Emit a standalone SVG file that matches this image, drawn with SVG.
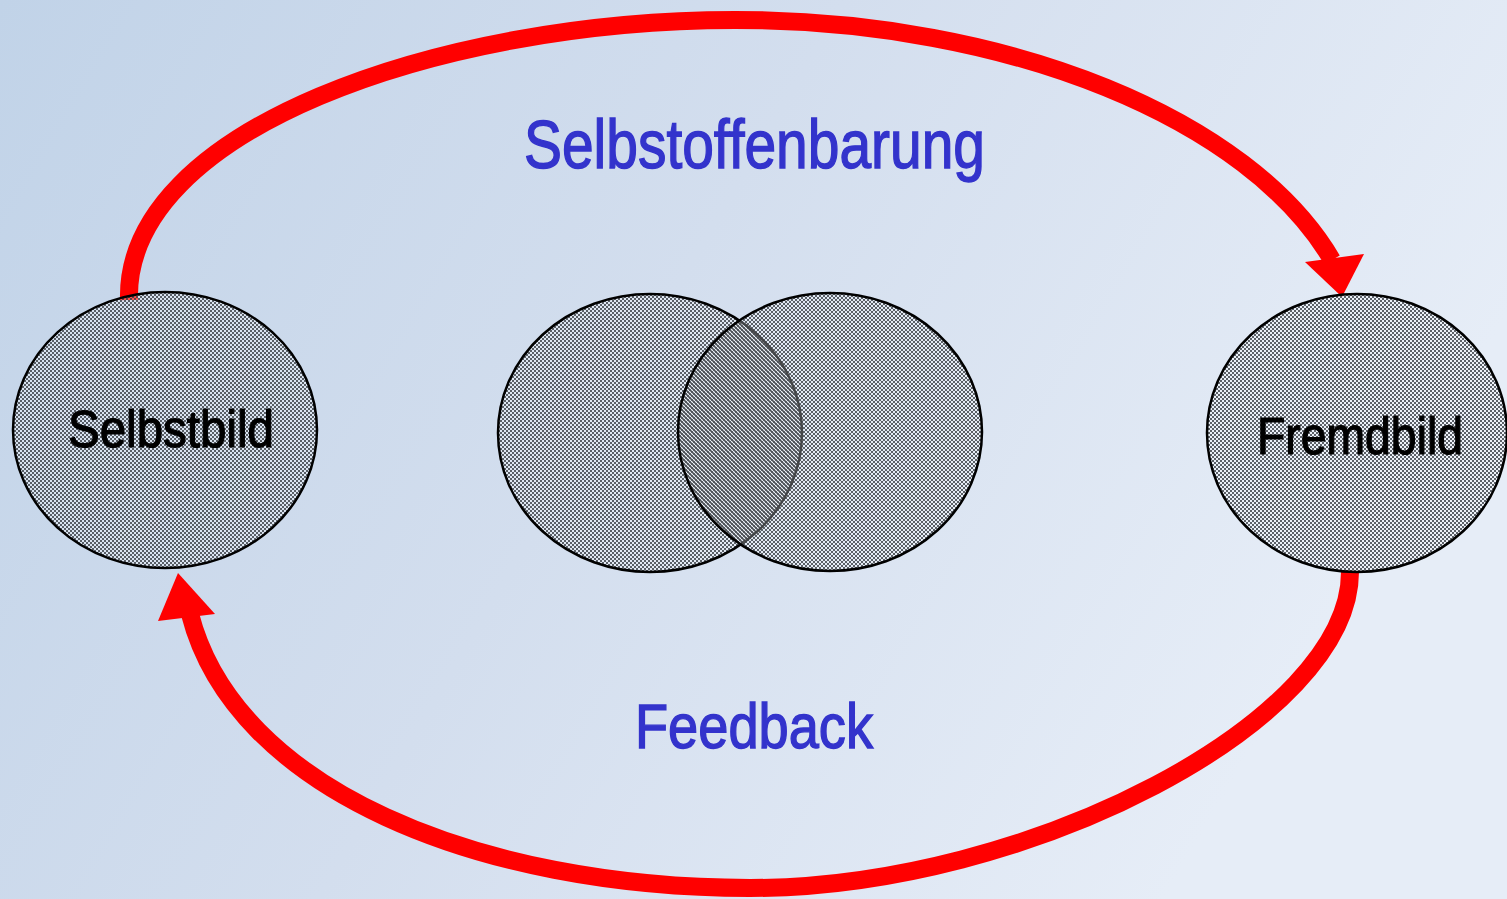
<svg xmlns="http://www.w3.org/2000/svg" width="1507" height="899" viewBox="0 0 1507 899">
  <defs>
    <linearGradient id="bg" x1="0" y1="0" x2="1" y2="0.35">
      <stop offset="0" stop-color="#c1d3e8"/>
      <stop offset="0.5" stop-color="#d3deee"/>
      <stop offset="1" stop-color="#e6edf7"/>
    </linearGradient>
    <!-- fine checkerboard used as the hatched fill of the circles -->
    <pattern id="check" width="4" height="4" patternUnits="userSpaceOnUse">
      <rect width="4" height="4" fill="#ffffff" fill-opacity="0.3"/>
      <rect width="2" height="2" fill="#383d44" fill-opacity="0.8"/>
      <rect x="2" y="2" width="2" height="2" fill="#383d44" fill-opacity="0.8"/>
    </pattern>
    <pattern id="check2" width="4" height="4" patternUnits="userSpaceOnUse" patternTransform="translate(1,1)">
      <rect width="4" height="4" fill="#ffffff" fill-opacity="0.3"/>
      <rect width="2" height="2" fill="#383d44" fill-opacity="0.8"/>
      <rect x="2" y="2" width="2" height="2" fill="#383d44" fill-opacity="0.8"/>
    </pattern>
    <style>
      .node { fill: url(#check); stroke: #000; stroke-width: 2.5; }
      .node2 { fill: url(#check2); stroke: #000; stroke-width: 2.5; }
      .arc { fill: none; stroke: #ff0000; stroke-width: 18; }
      .head { fill: #ff0000; }
      .label { font-family: "Liberation Sans Narrow", "Liberation Sans", Arial, sans-serif; fill: #000; stroke: #000; stroke-width: 1.2; }
      .title { font-family: "Liberation Sans Narrow", "Liberation Sans", Arial, sans-serif; fill: #3333cc; stroke: #3333cc; stroke-width: 1.4; }
    </style>
  </defs>

  <rect width="1507" height="899" fill="url(#bg)"/>

  <!-- connectors -->
  <g id="connectors">
    <path class="arc" d="M129,300 C 124,130 440,20 735,20 C 1010,20 1250,120 1332,260"/>
    <polygon class="head" points="1305,262 1364,254 1342,297"/>
    <path class="arc" d="M1350,572 C 1350,720 1030,888 750,888 C 480,888 235,790 190,614"/>
    <polygon class="head" points="158,621 215,614 178,573"/>
  </g>

  <g id="selbstbild">
    <ellipse class="node" cx="165" cy="430" rx="152" ry="138"/>
    <text class="label" x="68" y="447" font-size="51" textLength="206" lengthAdjust="spacingAndGlyphs">Selbstbild</text>
  </g>

  <g id="fremdbild">
    <ellipse class="node" cx="1357" cy="433" rx="150" ry="139"/>
    <text class="label" x="1257" y="454" font-size="51" textLength="206" lengthAdjust="spacingAndGlyphs">Fremdbild</text>
  </g>

  <g id="overlap">
    <ellipse class="node" cx="650" cy="433" rx="152" ry="139"/>
    <ellipse class="node2" cx="830" cy="432" rx="152" ry="139"/>
  </g>

  <g id="labels">
    <text class="title" x="524" y="168" font-size="68" textLength="461" lengthAdjust="spacingAndGlyphs">Selbstoffenbarung</text>
    <text class="title" x="635" y="748" font-size="63" textLength="238" lengthAdjust="spacingAndGlyphs">Feedback</text>
  </g>
</svg>
